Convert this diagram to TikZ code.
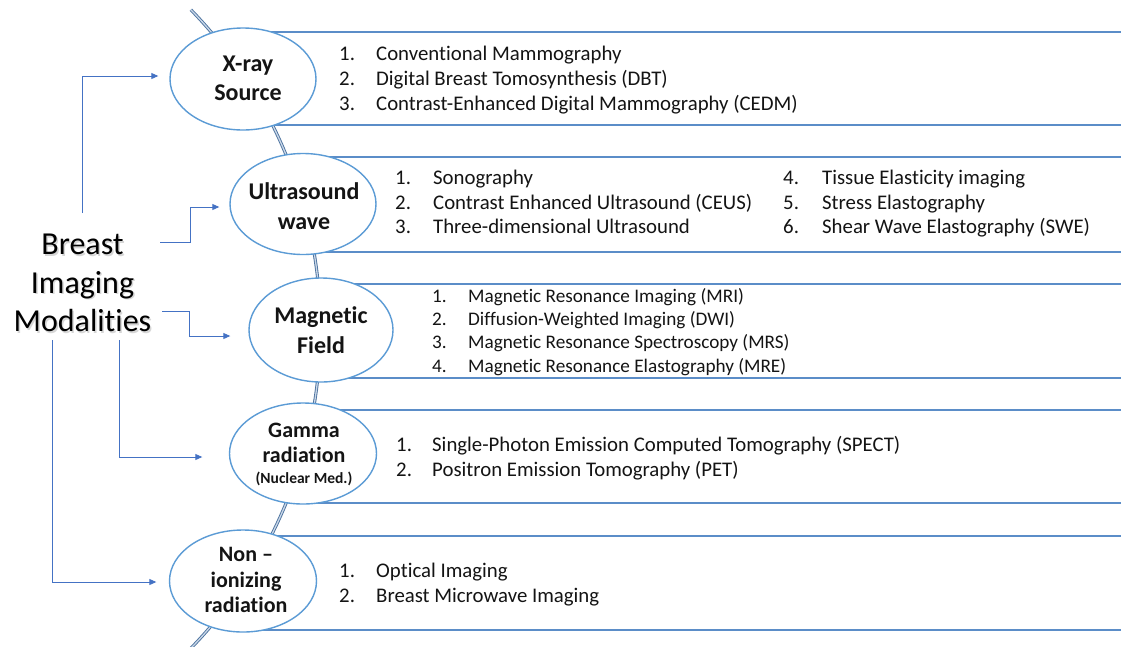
\documentclass[tikz,border=0pt]{standalone}
\usepackage{fontspec}
\setmainfont{Carlito}[Ligatures={NoCommon}]
\usetikzlibrary{arrows.meta,shapes.geometric}
\definecolor{bandc}{HTML}{5B8DC8}
\definecolor{ovalc}{HTML}{5B9BD5}
\definecolor{arrc}{HTML}{4472C4}
\definecolor{arcc}{HTML}{4C729E}
\definecolor{arcin}{HTML}{C9D7E8}
\definecolor{txt}{HTML}{141414}
\newcommand\numbox[2]{\makebox[#1][l]{#2}}
\begin{document}
\begin{tikzpicture}[x=1pt,y=-1pt,
  band/.style={draw=bandc,line width=1.6pt},
  oval/.style={ellipse,draw=ovalc,line width=1.4pt,fill=white,inner sep=0pt},
  lbl/.style={font=\bfseries\fontsize{24}{29}\selectfont,align=center,inner sep=0pt,text=txt},
  lst/.style={anchor=base west,inner sep=0pt,font=\fontsize{20.8}{25}\selectfont,text=txt},
  lstm/.style={anchor=base west,inner sep=0pt,font=\fontsize{19.2}{23}\selectfont,text=txt},
  arr/.style={draw=arrc,line width=0.9pt,-{Triangle[length=7pt,width=6pt]}},
]
\useasboundingbox (0,0) rectangle (1121,646);
\fill[white] (0,0) rectangle (1121,646);
\begin{scope}
\clip (0,0) rectangle (1121,646);
\foreach \t/\b/\xx in {32/125/243, 157/252/303, 284/378/321, 410/503/303, 536/630/243} {
  \draw[band] (\xx,\t) -- (1125,\t);
  \draw[band] (\xx,\b) -- (1125,\b);
}
\draw[draw=arcc,line width=0.9pt,double=arcin,double distance=1.3pt]
  plot[domain=-44.2:48,samples=90] ({-137.5+458*cos(\x)},{329+458*sin(\x)});
\end{scope}

% ovals
\node[oval,minimum width=146pt,minimum height=102pt] (e1) at (243,79) {};
\node[oval,minimum width=146pt,minimum height=101pt] (e2) at (303,204) {};
\node[oval,minimum width=144pt,minimum height=104pt] (e3) at (321,330) {};
\node[oval,minimum width=147pt,minimum height=101pt] (e4) at (303,453.5) {};
\node[oval,minimum width=147pt,minimum height=102pt] (e5) at (243,581) {};

% labels
\node[lbl] (t1) at (248,78) {X-ray\\Source};
\node[lbl,font=\bfseries\fontsize{24}{30}\selectfont] (t2) at (304,206) {Ultrasound\\wave};
\node[lbl,font=\bfseries\fontsize{24}{30.5}\selectfont] (t3) at (321,330) {Magnetic\\Field};
\node[lbl,font=\bfseries\fontsize{22}{25}\selectfont] (t4) at (304,454) {Gamma\\radiation\\[-4pt]{\fontsize{15.5}{18}\selectfont (Nuclear Med.)}};
\node[lbl,font=\bfseries\fontsize{22}{25.5}\selectfont] (t5) at (246,580) {Non --\\ionizing\\radiation};

% lists
\node[lst] (x1) at (339,60) {\numbox{37pt}{1.}Conventional Mammography};
\node[lst] (x2) at (339,85) {\numbox{37pt}{2.}Digital Breast Tomosynthesis (DBT)};
\node[lst] (x3) at (339,110) {\numbox{37pt}{3.}Contrast-Enhanced Digital Mammography (CEDM)};

\node[lst] (u1) at (395,184) {\numbox{38pt}{1.}Sonography};
\node[lst] (u2) at (395,209) {\numbox{38pt}{2.}Contrast Enhanced Ultrasound (CEUS)};
\node[lst] (u3) at (395,233) {\numbox{38pt}{3.}Three-dimensional Ultrasound};
\node[lst] (u4) at (783,184) {\numbox{39pt}{4.}Tissue Elasticity imaging};
\node[lst] (u5) at (783,209) {\numbox{39pt}{5.}Stress Elastography};
\node[lst] (u6) at (783,233) {\numbox{39pt}{6.}Shear Wave Elastography (SWE)};

\node[lstm] (m1) at (432,302) {\numbox{36pt}{1.}Magnetic Resonance Imaging (MRI)};
\node[lstm] (m2) at (432,325) {\numbox{36pt}{2.}Diffusion-Weighted Imaging (DWI)};
\node[lstm] (m3) at (432,348) {\numbox{36pt}{3.}Magnetic Resonance Spectroscopy (MRS)};
\node[lstm] (m4) at (432,372) {\numbox{36pt}{4.}Magnetic Resonance Elastography (MRE)};

\node[lst] (g1) at (396,451) {\numbox{36pt}{1.}Single-Photon Emission Computed Tomography (SPECT)};
\node[lst] (g2) at (396,476) {\numbox{36pt}{2.}Positron Emission Tomography (PET)};

\node[lst] (n1) at (339,577) {\numbox{37pt}{1.}Optical Imaging};
\node[lst] (n2) at (339,602) {\numbox{37pt}{2.}Breast Microwave Imaging};

% main title with soft shadow
\node[font=\fontsize{32}{38.5}\selectfont,align=center,inner sep=0pt,text=black!35,opacity=0.45] (bimsh) at (84,284.5) {Breast\\Imaging\\Modalities};
\node[font=\fontsize{32}{38.5}\selectfont,align=center,inner sep=0pt,text=black] (bim) at (82.5,283) {Breast\\Imaging\\Modalities};

% connectors
\coordinate (s1) at (82,213);
\coordinate (s2) at (160,242);
\coordinate (s3) at (162,311);
\coordinate (s4) at (119,340);
\coordinate (s5) at (52,340);
\draw[arr] (s1) |- ([xshift=-11pt,yshift=3pt]e1.west);
\draw[arr] (s2) -- (190,242) |- ([xshift=-10pt,yshift=-3pt]e2.west);
\draw[arr] (s3) -- (189,311) |- ([xshift=-18pt,yshift=-6pt]e3.west);
\draw[arr] (s4) |- ([xshift=-26.5pt,yshift=-3.5pt]e4.west);
\draw[arr] (s5) |- ([xshift=-12.5pt,yshift=-1pt]e5.west);
\end{tikzpicture}
\end{document}
